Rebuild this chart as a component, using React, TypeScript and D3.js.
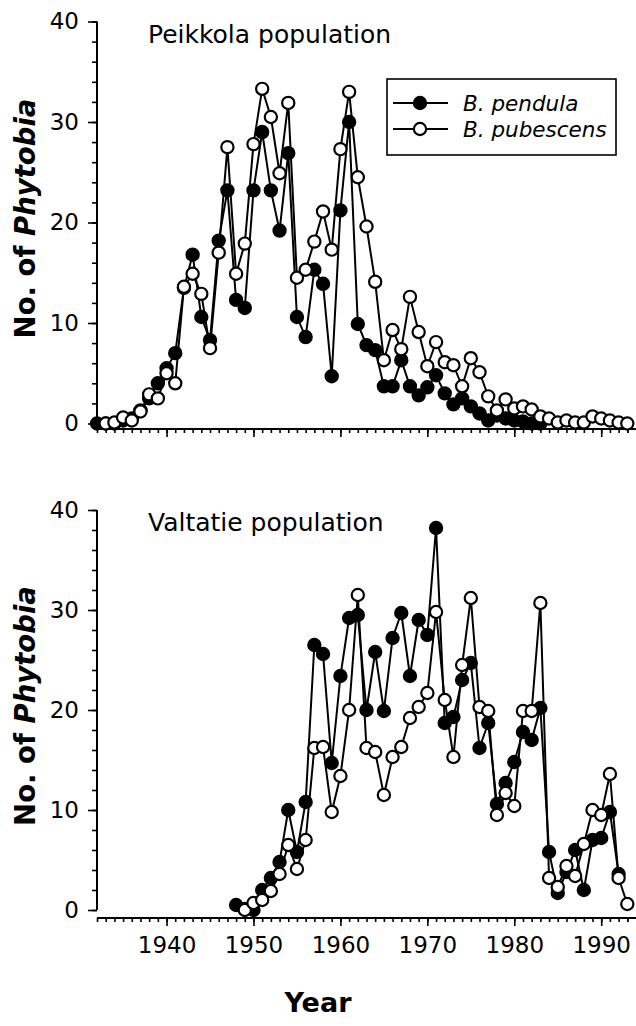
import React, { useRef, useEffect } from "react";
import * as d3 from "d3";

// years on the x axis, one value per year (null = no sample)
const years = d3.range(1932, 1994);

const peikkolaPendula = [
  0, 0, 0, 0.3, 0.5, 1.3, 2.5, 4.0, 5.5, 7.0, 13.5, 16.8, 10.6, 8.3, 18.2, 23.2,
  12.3, 11.5, 23.2, 29.0, 23.2, 19.2, 26.9, 10.6, 8.6, 15.3, 13.9, 4.7, 21.2, 30.0,
  9.9, 7.8, 7.3, 3.7, 3.7, 6.3, 3.7, 2.8, 3.6, 4.8, 3.0, 1.9, 2.5, 1.7, 1.0, 0.3,
  0.8, 0.5, 0.3, 0.2, 0, 0, null, null, null, null, null, null, null, null, null, null,
];

const peikkolaPubescens = [
  null, 0, 0.1, 0.6, 0.3, 1.2, 2.9, 2.5, 5.0, 4.0, 13.6, 14.9, 12.9, 7.5, 17.0, 27.5,
  14.9, 17.9, 27.8, 33.3, 30.5, 24.9, 31.9, 14.5, 15.3, 18.1, 21.1, 17.3, 27.3, 33.0,
  24.5, 19.6, 14.1, 6.3, 9.3, 7.4, 12.6, 9.1, 5.7, 8.1, 6.1, 5.8, 3.7, 6.5, 5.1, 2.7,
  1.3, 2.4, 1.5, 1.7, 1.4, 0.7, 0.5, 0.1, 0.3, 0.1, 0.1, 0.7, 0.5, 0.3, 0.1, 0,
];

const valtatiePendula = [
  null, null, null, null, null, null, null, null, null, null, null, null, null, null, null, null,
  0.5, 0.1, 0, 2.0, 3.2, 4.8, 10.0, 5.8, 10.8, 26.5, 25.6, 14.7, 23.4, 29.2,
  29.5, 20.0, 25.8, 19.9, 27.2, 29.7, 23.4, 29.0, 27.5, 38.2, 18.7, 19.3, 23.0, 24.7, 16.2, 18.7,
  10.6, 12.7, 14.8, 17.8, 17.0, 20.2, 5.8, 1.7, 3.8, 6.0, 2.0, 7.0, 7.2, 9.8, 3.6, null,
];

const valtatiePubescens = [
  null, null, null, null, null, null, null, null, null, null, null, null, null, null, null, null,
  null, 0, 0.7, 1.0, 1.9, 3.6, 6.5, 4.1, 7.0, 16.2, 16.3, 9.8, 13.4, 20.0,
  31.5, 16.2, 15.8, 11.5, 15.3, 16.3, 19.2, 20.3, 21.7, 29.8, 21.0, 15.3, 24.5, 31.2, 20.3, 19.9,
  9.5, 11.7, 10.4, 19.9, 19.9, 30.7, 3.2, 2.3, 4.4, 3.4, 6.6, 10.0, 9.5, 13.6, 3.2, 0.6,
];

const yTicks = [0, 10, 20, 30, 40];
const xTicks = [1940, 1950, 1960, 1970, 1980, 1990];
const seriesNames = ["B. pendula", "B. pubescens"];

const W = 636;
const H = 1026;
const FONT = "DejaVu Sans, sans-serif";
const R = 6.1;

const App = () => {
  const svgRef = useRef(null);

  useEffect(() => {
    const svg = d3.select(svgRef.current);
    svg.selectAll("*").remove();

    const x = d3.scaleLinear().domain([1932, 1994]).range([97, 636]);

    const panels = [
      { title: "Peikkola population", pendula: peikkolaPendula, pubescens: peikkolaPubescens, y0: 423.5, y40: 21.5, axisY: 429, labels: false, legend: true },
      { title: "Valtatie population", pendula: valtatiePendula, pubescens: valtatiePubescens, y0: 910, y40: 510, axisY: 918, labels: true, legend: false },
    ];

    panels.forEach((p) => {
      const y = d3.scaleLinear().domain([0, 40]).range([p.y0, p.y40]);
      const g = svg.append("g");

      // y axis: minor every 2, major every 10
      const yMinor = g.append("g").attr("transform", "translate(97,0)")
        .call(d3.axisLeft(y).tickValues(d3.range(0, 41, 2)).tickSize(5).tickFormat(() => ""));
      yMinor.select(".domain").remove();
      const yMajor = g.append("g").attr("transform", "translate(97,0)")
        .call(d3.axisLeft(y).tickValues(yTicks).tickSize(9).tickPadding(9));
      yMajor.select(".domain").remove();
      yMajor.selectAll("text").attr("font-family", FONT).attr("font-size", 23).attr("fill", "#000");
      g.selectAll(".tick line").attr("stroke", "#000").attr("stroke-width", 1.6);
      g.append("line").attr("x1", 97).attr("x2", 97).attr("y1", y(40)).attr("y2", y(0))
        .attr("stroke", "#000").attr("stroke-width", 2);

      // x axis: minor every year, major every 10
      const xMinor = g.append("g").attr("transform", `translate(0,${p.axisY})`)
        .call(d3.axisBottom(x).tickValues(years.concat([1993])).tickSize(4).tickFormat(() => ""));
      xMinor.select(".domain").remove();
      const xMajor = g.append("g").attr("transform", `translate(0,${p.axisY})`)
        .call(d3.axisBottom(x).tickValues(xTicks).tickSize(8).tickPadding(11)
          .tickFormat(p.labels ? d3.format("d") : () => ""));
      xMajor.select(".domain").remove();
      xMajor.selectAll("text").attr("font-family", FONT).attr("font-size", 23).attr("fill", "#000");
      g.selectAll(".tick line").attr("stroke", "#000").attr("stroke-width", 1.6);
      g.append("line").attr("x1", 97).attr("x2", 636).attr("y1", p.axisY).attr("y2", p.axisY)
        .attr("stroke", "#000").attr("stroke-width", 2);

      // panel title
      g.append("text").attr("x", 148).attr("y", p.y40 + 21)
        .attr("font-family", FONT).attr("font-size", 25).text(p.title);

      // y label
      const yl = g.append("text")
        .attr("transform", `translate(35,${(p.y0 + p.y40) / 2 - 4}) rotate(-90)`)
        .attr("text-anchor", "middle").attr("font-family", FONT)
        .attr("font-size", 27.5).attr("font-weight", "bold");
      yl.append("tspan").text("No. of ");
      yl.append("tspan").attr("font-style", "italic").text("Phytobia");

      const line = d3.line()
        .defined((d) => d != null)
        .x((d, i) => x(years[i]))
        .y((d) => y(d));

      [[p.pendula, "#000"], [p.pubescens, "#fff"]].forEach(([vals, fill]) => {
        g.append("path").datum(vals).attr("d", line)
          .attr("fill", "none").attr("stroke", "#000").attr("stroke-width", 2);
        g.append("g").selectAll("circle")
          .data(vals.map((v, i) => ({ v, yr: years[i] })).filter((d) => d.v != null))
          .join("circle")
          .attr("cx", (d) => x(d.yr)).attr("cy", (d) => y(d.v)).attr("r", R)
          .attr("fill", fill).attr("stroke", "#000").attr("stroke-width", 2.2);
      });

      if (p.legend) {
        const lg = g.append("g");
        lg.append("rect").attr("x", 387).attr("y", 79).attr("width", 229).attr("height", 76)
          .attr("fill", "#fff").attr("stroke", "#000").attr("stroke-width", 1.6);
        seriesNames.forEach((name, i) => {
          const ly = 103 + i * 26;
          lg.append("line").attr("x1", 393).attr("x2", 448).attr("y1", ly).attr("y2", ly)
            .attr("stroke", "#000").attr("stroke-width", 2);
          lg.append("circle").attr("cx", 420).attr("cy", ly).attr("r", R)
            .attr("fill", i === 0 ? "#000" : "#fff").attr("stroke", "#000").attr("stroke-width", 2.2);
          lg.append("text").attr("x", 463).attr("y", ly + 8)
            .attr("font-family", FONT).attr("font-size", 21.5).attr("font-style", "italic")
            .text(name);
        });
      }
    });

    svg.append("text").attr("x", 318).attr("y", 1012).attr("text-anchor", "middle")
      .attr("font-family", FONT).attr("font-size", 27).attr("font-weight", "bold").text("Year");
  }, []);

  return (
    <svg ref={svgRef} width={W} height={H}
      style={{ position: "absolute", left: 0, top: 0, background: "#fff" }} />
  );
};

export default App;
